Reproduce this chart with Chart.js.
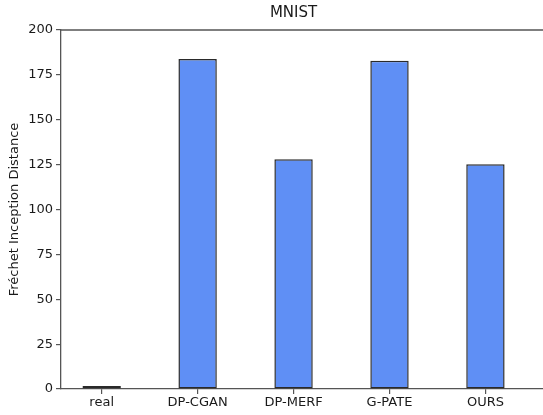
<!DOCTYPE html>
<html>
<head>
<meta charset="utf-8">
<script src="https://cdn.jsdelivr.net/npm/chart.js@4/dist/chart.umd.min.js"></script>
<style>
  html, body { margin: 0; padding: 0; background: #fff; }
  #wrap { width: 543px; height: 415px; }
</style>
</head>
<body>
<div id="wrap"><canvas id="c" width="543" height="415"></canvas></div>
<script>
// FID scores per method on MNIST
const methods = ['real', 'DP-CGAN', 'DP-MERF', 'G-PATE', 'OURS'];
const fidScores = [1.7, 183.8, 128.0, 182.8, 125.2];
const yTicks = [0, 25, 50, 75, 100, 125, 150, 175, 200];

const axisColor = '#555';
const textColor = '#1a1a1a';
const fontFamily = '"DejaVu Sans", sans-serif';

// Frame line along the top and the chart title centred over the data range
const framePlugin = {
  id: 'frame',
  afterDraw(chart) {
    const { ctx, chartArea, scales } = chart;
    ctx.save();
    ctx.strokeStyle = axisColor;
    ctx.lineWidth = 1.3;
    ctx.beginPath();
    ctx.moveTo(chartArea.left, chartArea.top);
    ctx.lineTo(chartArea.right, chartArea.top);
    ctx.stroke();
    ctx.fillStyle = textColor;
    ctx.font = '15px ' + fontFamily;
    ctx.textAlign = 'center';
    ctx.textBaseline = 'middle';
    ctx.fillText('MNIST', scales.x.getPixelForValue((methods.length - 1) / 2), 13);
    ctx.restore();
  }
};

new Chart(document.getElementById('c'), {
  type: 'bar',
  data: {
    datasets: [{
      data: fidScores.map((v, i) => ({ x: i, y: v })),
      backgroundColor: 'rgb(95,143,245)',
      borderColor: '#2a2a2a',
      borderWidth: 1.5,
      borderSkipped: false,
      barPercentage: 1.0,
      categoryPercentage: 0.4
    }]
  },
  options: {
    responsive: false,
    animation: false,
    layout: { padding: { top: 30, right: 0, left: 0, bottom: 0 } },
    plugins: {
      legend: { display: false },
      tooltip: { enabled: false },
      title: { display: false }
    },
    scales: {
      x: {
        type: 'linear',
        offset: false,
        min: -0.424,
        max: 4.6,
        afterFit(scale) { scale.height = 26; },
        afterBuildTicks(scale) { scale.ticks = methods.map((_, i) => ({ value: i })); },
        ticks: {
          color: textColor,
          font: { family: fontFamily, size: 13 },
          padding: 1,
          autoSkip: false,
          maxRotation: 0,
          callback: (v) => methods[v]
        },
        grid: { display: true, offset: false, drawOnChartArea: false, drawTicks: true, tickLength: 5, color: axisColor, lineWidth: 1.2 },
        border: { display: true, color: axisColor, width: 1.3 }
      },
      y: {
        min: 0,
        max: 200,
        afterFit(scale) { scale.width = 61; },
        afterBuildTicks(scale) { scale.ticks = yTicks.map(v => ({ value: v })); },
        ticks: {
          color: textColor,
          font: { family: fontFamily, size: 13 },
          padding: 3
        },
        title: {
          display: true,
          text: 'Fréchet Inception Distance',
          color: textColor,
          font: { family: fontFamily, size: 13 },
          padding: { top: 7, bottom: 0 }
        },
        grid: { display: true, drawOnChartArea: false, drawTicks: true, tickLength: 5, color: axisColor, lineWidth: 1.2 },
        border: { display: true, color: axisColor, width: 1.3 }
      }
    }
  },
  plugins: [framePlugin]
});
</script>
</body>
</html>
